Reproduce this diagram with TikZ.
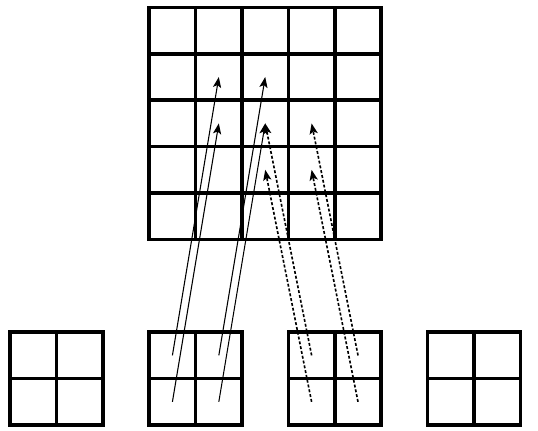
\documentclass[tikz,border=0pt]{standalone}
\usepackage{tikz}
\usetikzlibrary{
	arrows,
	arrows.meta,
	positioning
}
\tikzset{
	>={Stealth[length=6.5pt,width=5pt,inset=1.5pt]},
	gridline/.style={line width=2.2pt, line cap=rect},
	flowedge/.style={->, line width=0.65pt},
	flowedgedash/.style={->, line width=1pt, dash pattern=on 1.8pt off 1.2pt}
}

\begin{document}
\begin{tikzpicture}
	\useasboundingbox (-0.216,-0.129) rectangle (11.379,9.16);

	\draw[gridline] (3,4) grid (8,9);
	\foreach \k in {0,...,3}
		\draw[gridline] (3*\k,0) grid (3*\k+2,2);

	% cell centres
	\foreach \r in {1,...,5}
		\foreach \c in {1,...,5}
			\coordinate (o-\r-\c) at (2.5+\c, 9.5-\r);
	\foreach \k in {1,...,4}
		\foreach \r in {1,2}
			\foreach \c in {1,2}
				\coordinate (i\k-\r-\c) at (3*\k-3.5+\c, 2.5-\r);

	\path[flowedge]
		(i2-1-1) edge (o-2-2)
		(i2-2-1) edge (o-3-2)
		(i2-1-2) edge (o-2-3)
		(i2-2-2) edge (o-3-3)
	;

	\path[flowedgedash]
		(i3-1-1) edge (o-3-3)
		(i3-2-1) edge (o-4-3)
		(i3-1-2) edge (o-3-4)
		(i3-2-2) edge (o-4-4)
	;
\end{tikzpicture}
\end{document}
